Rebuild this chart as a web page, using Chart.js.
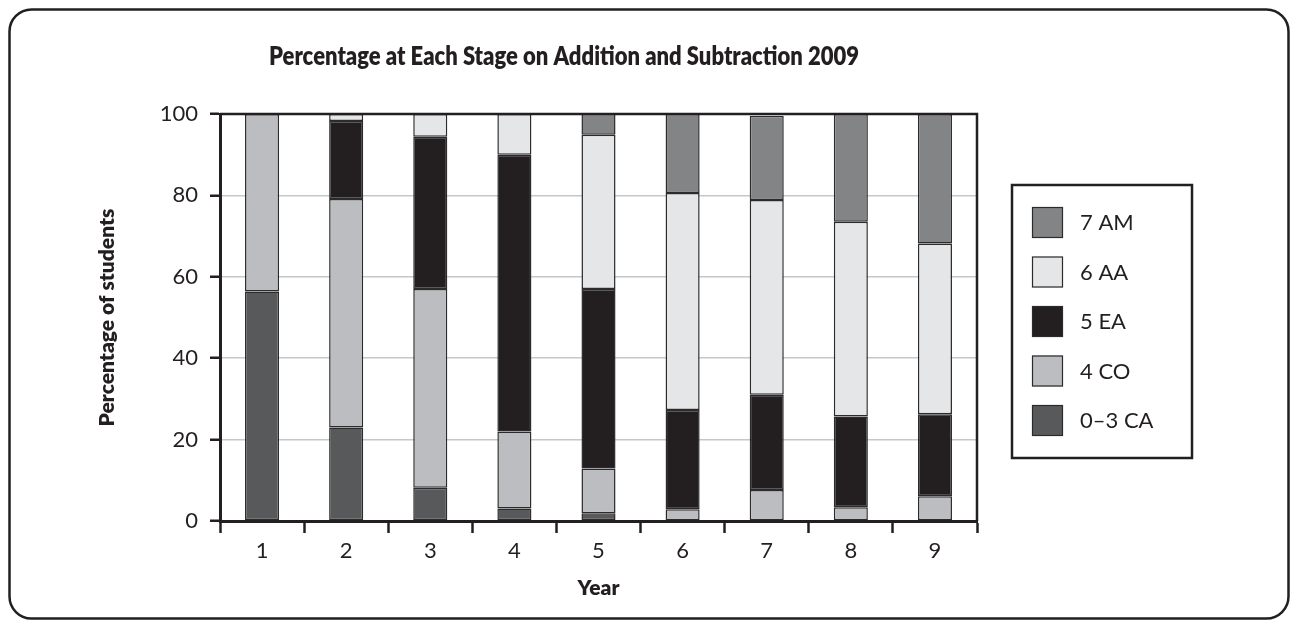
<!DOCTYPE html>
<html>
<head>
<meta charset="utf-8">
<title>Percentage at Each Stage on Addition and Subtraction 2009</title>
<script src="https://cdn.jsdelivr.net/npm/chart.js@4.4.1/dist/chart.umd.min.js"></script>
<style>
  html, body { margin: 0; padding: 0; background: #ffffff; }
  #wrap { width: 1294px; height: 621px; position: relative; }
  canvas { display: block; }
</style>
</head>
<body>
<div id="wrap"><canvas id="chart" width="1294" height="621"></canvas></div>
<script>
// School years on the x axis
const years = ['1', '2', '3', '4', '5', '6', '7', '8', '9'];

// Percentage of students at each stage, per year (stacked bottom to top)
const stageCA = [56.4, 23.0, 8.2, 3.1, 1.9, null, null, null, null];
const stageCO = [43.6, 56.1, 48.8, 18.9, 11.0, 2.9, 7.6, 3.4, 6.1];
const stageEA = [null, 19.2, 37.4, 68.0, 44.1, 24.4, 23.4, 22.3, 20.1];
const stageAA = [null, 1.7, 5.6, 10.0, 37.9, 53.3, 47.9, 47.8, 42.0];
const stageAM = [null, null, null, null, 5.1, 19.4, 20.7, 26.5, 31.8];

// Stage names as shown in the key
const stageLabels = ['0\u20133 CA', '4 CO', '5 EA', '6 AA', '7 AM'];
const yTicks = [0, 20, 40, 60, 80, 100];

const chartTitle = 'Percentage at Each Stage on Addition and Subtraction 2009';
const yTitle = 'Percentage of students';
const xTitle = 'Year';

const INK = '#231f20';
const stageColors = ['#58595b', '#bcbdc0', '#231f20', '#e5e6e7', '#838486'];
const FONT = 'Lato, "Open Sans", sans-serif';

const stageSeries = [stageCA, stageCO, stageEA, stageAA, stageAM];
const datasets = stageSeries.map((values, i) => ({
  label: stageLabels[i],
  data: values,
  backgroundColor: stageColors[i],
  borderColor: '#2b2b2b',
  borderWidth: 1.5,
  borderSkipped: false,
  categoryPercentage: 1.0,
  barPercentage: 0.405
}));

// Draws text squeezed horizontally so it spans at most a given width
function fitText(ctx, text, x, y, maxW) {
  const w = ctx.measureText(text).width;
  const sx = Math.min(1, maxW / w);
  ctx.save();
  ctx.translate(x, y);
  ctx.scale(sx, 1);
  ctx.fillText(text, 0, 0);
  ctx.restore();
}

// Decorations: rounded outer frame, plot frame, title and boxed key
const decor = {
  id: 'decor',
  beforeDraw(chart) {
    const ctx = chart.ctx;
    ctx.save();
    ctx.fillStyle = '#ffffff';
    ctx.fillRect(0, 0, chart.width, chart.height);
    ctx.restore();
  },
  afterDatasetsDraw(chart) {
    const { ctx, chartArea: a } = chart;
    ctx.save();
    ctx.strokeStyle = INK;
    ctx.lineWidth = 2.5;
    ctx.beginPath();
    ctx.moveTo(a.left, a.top);
    ctx.lineTo(a.right, a.top);
    ctx.lineTo(a.right, a.bottom);
    ctx.stroke();
    ctx.restore();
  },
  afterDraw(chart) {
    const ctx = chart.ctx;
    ctx.save();

    // outer rounded frame
    ctx.strokeStyle = INK;
    ctx.lineWidth = 2.5;
    ctx.beginPath();
    ctx.roundRect(9.5, 9.5, 1279, 609, 22);
    ctx.stroke();

    // title
    ctx.fillStyle = INK;
    ctx.font = '800 27px ' + FONT;
    ctx.textAlign = 'center';
    ctx.textBaseline = 'middle';
    fitText(ctx, chartTitle, 564, 56, 590);

    // key box
    ctx.lineWidth = 2.5;
    ctx.strokeStyle = INK;
    ctx.strokeRect(1012, 185, 180, 273);
    const ds = chart.data.datasets;
    ctx.font = '22px ' + FONT;
    ctx.textAlign = 'left';
    ctx.textBaseline = 'middle';
    for (let k = 0; k < ds.length; k++) {
      const d = ds[ds.length - 1 - k];
      const y = 207 + k * 49.5;
      ctx.fillStyle = d.backgroundColor;
      ctx.fillRect(1032, y, 31, 31);
      ctx.lineWidth = 1.2;
      ctx.strokeStyle = '#2b2b2b';
      ctx.strokeRect(1032.5, y + 0.5, 30, 30);
      ctx.fillStyle = INK;
      ctx.fillText(d.label, 1080, y + 16);
    }
    ctx.restore();
  }
};

new Chart(document.getElementById('chart'), {
  type: 'bar',
  data: { labels: years, datasets: datasets },
  options: {
    responsive: false,
    animation: false,
    devicePixelRatio: 1,
    layout: { padding: { top: 114, right: 317, bottom: 0, left: 0 } },
    plugins: {
      legend: { display: false },
      title: { display: false },
      tooltip: { enabled: false }
    },
    scales: {
      x: {
        stacked: true,
        grid: {
          offset: true,
          drawOnChartArea: false,
          tickLength: 12,
          tickColor: INK,
          tickWidth: 2.5
        },
        border: { color: INK, width: 3 },
        ticks: { color: INK, font: { family: FONT, size: 22 }, padding: 5 },
        title: {
          display: true,
          text: xTitle,
          color: INK,
          font: { family: FONT, size: 21, weight: '800' },
          padding: { top: 0, bottom: 20 }
        },
        afterFit(scale) { scale.height = 100; }
      },
      y: {
        stacked: true,
        min: 0,
        max: 100,
        afterBuildTicks(scale) { scale.ticks = yTicks.map(v => ({ value: v })); },
        grid: {
          color: '#c6c7c9',
          lineWidth: 1.5,
          tickLength: 10,
          tickColor: INK,
          tickWidth: 2.5
        },
        border: { color: INK, width: 3 },
        ticks: { color: INK, font: { family: FONT, size: 22 }, padding: 12 },
        title: {
          display: true,
          text: yTitle,
          color: INK,
          font: { family: FONT, size: 21, weight: '800' },
          padding: { top: 95, bottom: 0 }
        },
        afterFit(scale) { scale.width = 220; }
      }
    }
  },
  plugins: [decor]
});
</script>
</body>
</html>
